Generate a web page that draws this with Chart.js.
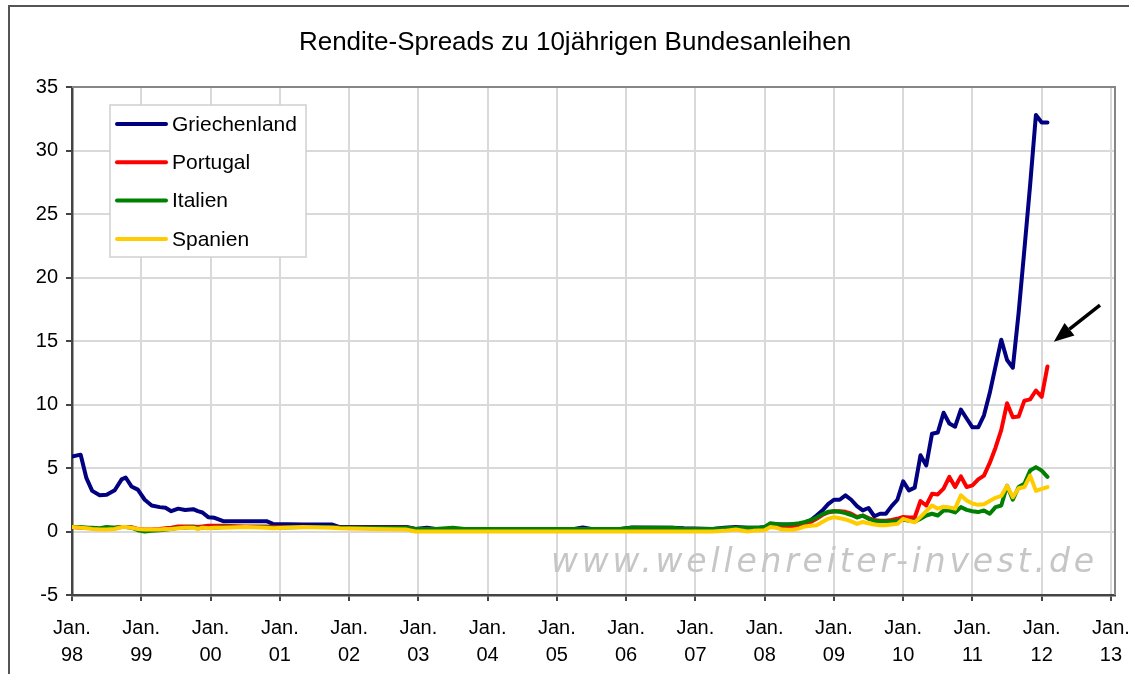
<!DOCTYPE html>
<html>
<head>
<meta charset="utf-8">
<script src="https://cdn.jsdelivr.net/npm/chart.js@4.4.1/dist/chart.umd.min.js"></script>
<style>
html,body{margin:0;padding:0;background:#fff}
#wrap{width:1129px;height:674px}
</style>
</head>
<body>
<div id="wrap"><canvas id="chart" width="1129" height="674"></canvas></div>
<script>
// month index counted from Jan. 98
const months=[0,1.5,2.5,3.5,4.8,6,7.4,8.6,9.3,10.3,11.4,12.6,13.8,15.2,16.2,17.2,18.4,19.6,21,21.8,22.6,23.6,24.7,26.2,
 30,33.7,34.8,40,45,46.4,52,58,59.5,61.5,63,66,68,80,87,88.5,90,95,97,104,106,111,113,115,117,118,119,120,
 121,122,123,124,125,126,127,128,129,130,131,132,133,134,135,136,137,138,139,140,141,142,143,144,145,146,147,148,149,150,
 151,152,153,154,155,156,157,158,159,160,161,162,163,164,165,166,167,168,169];

const griechenland=[5.9,6.05,4.2,3.2,2.85,2.9,3.25,4.1,4.25,3.55,3.3,2.5,2.05,1.92,1.87,1.6,1.8,1.7,1.76,1.6,1.5,1.13,1.08,0.81,
 0.8,0.81,0.6,0.55,0.55,0.35,0.35,0.35,0.2,0.3,0.2,0.2,0.2,0.2,0.2,0.32,0.2,0.2,0.32,0.3,0.25,0.2,0.3,0.35,0.3,0.3,0.3,0.35,
 0.6,0.55,0.55,0.55,0.55,0.6,0.7,0.9,1.25,1.65,2.15,2.5,2.5,2.85,2.5,2.0,1.66,1.85,1.2,1.4,1.4,2.0,2.5,3.95,3.24,3.45,6.0,5.2,7.7,7.8,
 9.35,8.5,8.25,9.6,8.9,8.2,8.2,9.15,10.9,13.0,15.1,13.5,12.9,17.2,22.2,27.3,32.8,32.2,32.2];

const portugal=[0.35,0.3,0.3,0.25,0.2,0.25,0.3,0.35,0.35,0.35,0.2,0.15,0.15,0.2,0.25,0.3,0.4,0.4,0.4,0.35,0.4,0.45,0.45,0.45,
 0.4,0.4,0.35,0.35,0.35,0.3,0.3,0.3,0.2,0.15,0.15,0.15,0.15,0.15,0.15,0.15,0.15,0.15,0.15,0.15,0.15,0.15,0.2,0.25,0.2,0.2,0.2,0.3,
 0.45,0.45,0.4,0.4,0.45,0.5,0.6,0.75,1.0,1.3,1.5,1.6,1.6,1.55,1.4,1.15,1.25,1.05,0.9,0.85,0.85,0.9,1.0,1.15,1.1,1.1,2.4,2.05,2.97,2.92,
 3.37,4.3,3.5,4.34,3.5,3.63,4.1,4.4,5.4,6.6,8.0,10.1,9.0,9.05,10.3,10.4,11.1,10.6,13.0];

const italien=[0.35,0.35,0.3,0.3,0.25,0.35,0.3,0.35,0.35,0.3,0.1,0.0,0.05,0.1,0.15,0.2,0.3,0.3,0.35,0.25,0.3,0.3,0.3,0.35,
 0.35,0.35,0.3,0.35,0.35,0.3,0.3,0.3,0.2,0.2,0.2,0.3,0.2,0.2,0.2,0.2,0.2,0.2,0.3,0.3,0.2,0.2,0.25,0.3,0.3,0.3,0.3,0.35,
 0.65,0.6,0.55,0.55,0.6,0.65,0.75,0.9,1.1,1.35,1.55,1.6,1.55,1.45,1.3,1.1,1.25,1.0,0.85,0.8,0.8,0.8,0.85,0.95,0.85,0.8,1.0,1.26,1.4,1.26,
 1.66,1.65,1.5,1.92,1.7,1.6,1.53,1.66,1.4,1.92,2.05,3.6,2.5,3.5,3.76,4.8,5.07,4.8,4.3];

const spanien=[0.35,0.3,0.25,0.2,0.15,0.15,0.2,0.35,0.35,0.3,0.2,0.15,0.15,0.15,0.2,0.2,0.25,0.3,0.3,0.2,0.3,0.25,0.3,0.3,
 0.35,0.3,0.25,0.35,0.3,0.25,0.2,0.15,0.0,0.0,0.0,0.0,0.0,0.0,0.0,0.0,0.0,0.0,0.0,0.0,0.0,0.0,0.05,0.15,0.0,0.05,0.08,0.1,
 0.35,0.3,0.15,0.13,0.13,0.25,0.4,0.45,0.5,0.75,1.0,1.13,1.05,0.95,0.8,0.6,0.75,0.65,0.55,0.5,0.5,0.55,0.6,1.0,0.85,0.72,1.15,1.6,2.05,1.8,
 1.95,1.9,1.8,2.85,2.45,2.2,2.1,2.15,2.4,2.65,2.8,3.6,2.7,3.4,3.5,4.4,3.2,3.35,3.5];

const xTicks=[0,12,24,36,48,60,72,84,96,108,120,132,144,156,168,180];
const xLabels=['98','99','00','01','02','03','04','05','06','07','08','09','10','11','12','13'];
const yTicks=[-5,0,5,10,15,20,25,30,35];
const title='Rendite-Spreads zu 10jährigen Bundesanleihen';

const font='"Liberation Sans", Arial, sans-serif';
const series=(label,vals,color,order)=>({
 label,order,data:months.map((m,i)=>({x:m,y:vals[i]})),
 borderColor:color,backgroundColor:color,borderWidth:4,pointRadius:0,tension:0,
 borderJoinStyle:'round',borderCapStyle:'round'
});

const decor={
 id:'decor',
 beforeDatasetsDraw(chart){
  const {ctx}=chart;
  ctx.save();
  ctx.font='oblique 33px "DejaVu Sans", sans-serif';
  const txt='www.wellenreiter-invest.de';
  const w=ctx.measureText(txt).width;
  ctx.letterSpacing=((543-w)/(txt.length-1)).toFixed(2)+'px';
  ctx.fillStyle='#c6c6c6';
  ctx.textBaseline='alphabetic';
  ctx.fillText(txt,551,572);
  ctx.restore();
 },
 afterDatasetsDraw(chart){
  const {ctx,chartArea:a,scales:{x,y}}=chart;
  ctx.save();
  // plot border top/right
  ctx.strokeStyle='#868686';ctx.lineWidth=2;
  ctx.beginPath();ctx.moveTo(a.left,a.top);ctx.lineTo(a.right,a.top);ctx.lineTo(a.right,a.bottom);ctx.stroke();
  // arrow
  const x0=x.getPixelForValue(178.1),y0=y.getPixelForValue(17.83);
  const x1=x.getPixelForValue(170.1),y1=y.getPixelForValue(14.95);
  const ang=Math.atan2(y1-y0,x1-x0),hl=20,hw=8;
  const bx=x1-hl*Math.cos(ang),by=y1-hl*Math.sin(ang);
  ctx.strokeStyle='#000';ctx.fillStyle='#000';ctx.lineWidth=3.5;
  ctx.beginPath();ctx.moveTo(x0,y0);ctx.lineTo(bx,by);ctx.stroke();
  ctx.beginPath();ctx.moveTo(x1,y1);
  ctx.lineTo(bx+hw*Math.sin(ang),by-hw*Math.cos(ang));
  ctx.lineTo(bx-hw*Math.sin(ang),by+hw*Math.cos(ang));
  ctx.closePath();ctx.fill();
  // legend
  const lx=a.left+38,ly=a.top+18;
  ctx.fillStyle='#fff';ctx.fillRect(lx,ly,196,152);
  ctx.strokeStyle='#d0d0d0';ctx.lineWidth=1.5;ctx.strokeRect(lx,ly,196,152);
  ctx.font='21px '+font;ctx.textBaseline='middle';
  chart.data.datasets.forEach((d,i)=>{
   const yy=ly+19+i*38.3;
   ctx.strokeStyle=d.borderColor;ctx.lineWidth=4;ctx.lineCap='round';
   ctx.beginPath();ctx.moveTo(lx+7,yy);ctx.lineTo(lx+56,yy);ctx.stroke();
   ctx.fillStyle='#000';ctx.fillText(d.label,lx+62,yy+1);
  });
  // title
  ctx.font='26px '+font;ctx.textAlign='center';ctx.fillStyle='#000';
  ctx.fillText(title,575,43);
  // outer frame
  ctx.strokeStyle='#555';ctx.lineWidth=2;
  ctx.beginPath();ctx.moveTo(9,674);ctx.lineTo(9,6);ctx.lineTo(1129,6);ctx.stroke();
  ctx.restore();
 }
};

new Chart(document.getElementById('chart'),{
 type:'line',
 data:{datasets:[
  series('Griechenland',griechenland,'#000080',3),
  series('Portugal',portugal,'#ff0000',2),
  series('Italien',italien,'#008000',1),
  series('Spanien',spanien,'#ffcc00',0)
 ]},
 options:{
  responsive:false,animation:false,
  layout:{padding:{left:0,right:14,top:87,bottom:0}},
  plugins:{legend:{display:false},tooltip:{enabled:false},title:{display:false}},
  scales:{
   x:{type:'linear',min:0,max:180.7,
    afterBuildTicks:s=>{s.ticks=xTicks.map(v=>({value:v}))},
    afterFit:s=>{s.height=79;s.paddingLeft=0;s.paddingRight=0},
    grid:{color:'#d9d9d9',lineWidth:2,tickLength:6,tickColor:'#444'},
    border:{display:true,color:'#444',width:2.5},
    ticks:{color:'#000',font:{family:font,size:20,lineHeight:1.35},padding:14,maxRotation:0,autoSkip:false,
     callback:(v,i)=>['Jan.',xLabels[i]]}
   },
   y:{min:-5,max:35,
    afterBuildTicks:s=>{s.ticks=yTicks.map(v=>({value:v}))},
    afterFit:s=>{s.width=72;s.paddingTop=0;s.paddingBottom=0},
    grid:{color:'#d9d9d9',lineWidth:2,tickLength:6,tickColor:'#444'},
    border:{display:true,color:'#444',width:2.5},
    ticks:{color:'#000',font:{family:font,size:20},padding:8}
   }
  }
 },
 plugins:[decor]
});
</script>
</body>
</html>
